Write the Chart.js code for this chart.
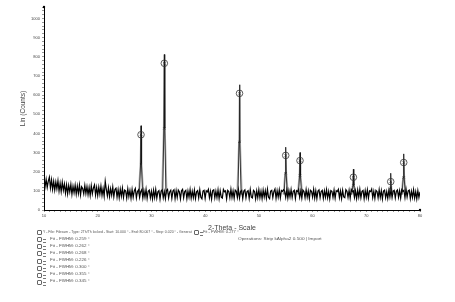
<!DOCTYPE html>
<html>
<head>
<meta charset="utf-8">
<script src="https://cdn.jsdelivr.net/npm/chart.js@4"></script>
<style>
  body { margin: 0; background: #fff; }
  #wrap { position: relative; width: 455px; height: 302px; overflow: hidden; }
  canvas { position: absolute; left: 0; top: 0; }
  .leg { position: absolute; font-family: Arial, "Liberation Sans", sans-serif; font-size: 3.8px; color: #555; white-space: nowrap; line-height: 5px; transform-origin: left top; }
  .ico { position: absolute; width: 5px; height: 5px; border: 0.7px solid #666; box-sizing: border-box; border-radius: 1px; }
  .ico.sub::after { content: ""; position: absolute; left: 5px; top: 1px; width: 2.5px; height: 2px; border-top: 0.7px solid #777; border-bottom: 0.7px solid #777; }
</style>
</head>
<body>
<div id="wrap">
  <canvas id="xrd" width="455" height="302"></canvas>
  <div id="legend"></div>
</div>
<script>
// measured scan, 2-theta 10..80, step 0.2
const scanStart = 10;
const scanStep = 0.2;
const counts = [
  168,122,160,118,151,172,115,158,108,149,
  104,146,110,152,99,140,96,145,103,136,
  88,131,84,128,94,134,82,125,90,130,
  83,126,86,131,79,121,112,84,128,86,
  122,80,118,76,127,84,115,131,78,118,
  75,119,82,125,77,113,72,150,108,74,
  116,70,111,77,120,69,107,114,67,106,
  64,109,72,114,66,104,100,62,111,70,
  102,61,107,66,99,112,63,97,105,65,
  96,106,62,101,67,108,60,98,104,64,
  98,58,103,65,107,62,95,101,57,99,
  105,64,96,59,102,108,63,94,103,61,
  99,106,60,101,65,104,95,58,100,108,
  64,97,103,59,99,67,107,62,98,65,
  104,60,95,101,63,106,66,58,99,103,
  61,100,94,108,64,97,57,102,106,63,
  98,65,105,60,101,67,62,107,95,100,
  58,103,97,64,109,66,100,61,104,98,
  65,106,62,97,102,60,99,105,64,96,
  101,61,107,67,63,103,97,58,100,65,
  106,64,98,60,104,68,101,62,108,66,
  59,99,103,65,97,110,61,101,67,105,
  63,102,97,106,99,66,104,62,101,68,
  107,65,98,103,60,101,96,108,66,99,
  62,104,97,64,106,67,100,59,103,98,
  68,108,63,101,60,99,105,65,97,103,
  61,100,67,106,64,97,58,102,98,66,
  104,62,101,96,108,65,99,60,103,68,
  64,106,98,66,102,62,107,96,100,65,
  99,60,104,67,108,64,97,102,59,101,
  66,105,62,100,96,109,65,98,60,103,
  97,63,106,66,101,58,99,104,64,96,
  61,102,68,107,65,99,103,63,98,105,
  66,101,62,106,97,103,65,108,68,100,
  104,60,98,66,106,62,96,58,101,65,
  95
];

// peaks: position, background, raw top, fitted top (circle), half height (cross), FWHM
const peakPos  = [28.06, 32.40, 46.40, 55.00, 57.66, 67.60, 74.55, 76.97];
const peakBkg  = [84, 82, 81, 81, 81, 80, 80, 80];
const peakTop  = [440, 812, 654, 328, 300, 213, 192, 293];
const peakFit  = [393, 766, 609, 285, 258, 171, 148, 248];
const peakHalf = [240, 426, 356, 192, 180, 128, 116, 170];
const peakFwhm = ['0.259', '0.262', '0.268', '0.226', '0.300', '0.355', '0.345', '0.277'];

const xLabels = [10, 20, 30, 40, 50, 60, 70, 80];
const yLabels = [0, 100, 200, 300, 400, 500, 600, 700, 800, 900, 1000];

const scanPts = counts.map((c, i) => ({ x: +(scanStart + i * scanStep).toFixed(2), y: c }));

const rawPeakPts = [];
const fitPts = [];
peakPos.forEach((p, i) => {
  const b = peakBkg[i];
  rawPeakPts.push({ x: p - 0.3, y: b }, { x: p - 0.08, y: peakHalf[i] }, { x: p, y: peakTop[i] },
                  { x: p + 0.08, y: peakHalf[i] }, { x: p + 0.3, y: b }, { x: p + 0.31, y: null });
  fitPts.push({ x: p - 0.45, y: b }, { x: p - 0.12, y: peakHalf[i] }, { x: p, y: peakFit[i] },
              { x: p + 0.12, y: peakHalf[i] }, { x: p + 0.45, y: b }, { x: p + 0.46, y: null });
});

const axisEnds = {
  id: 'axisEnds',
  afterDraw(chart) {
    const { ctx, chartArea: a } = chart;
    ctx.save();
    ctx.fillStyle = '#000';
    ctx.beginPath(); ctx.arc(a.left, a.top, 1.2, 0, Math.PI * 2); ctx.fill();
    ctx.beginPath(); ctx.arc(a.right, a.bottom, 1.2, 0, Math.PI * 2); ctx.fill();
    ctx.restore();
  }
};

const tickFont = { size: 4, family: 'Arial' };

new Chart(document.getElementById('xrd'), {
  type: 'line',
  data: {
    datasets: [
      { data: fitPts, borderColor: '#b4b4b4', borderWidth: 1.6, pointRadius: 0, spanGaps: false, order: 4 },
      { data: scanPts, borderColor: '#000', borderWidth: 1.2, pointRadius: 0, order: 3 },
      { data: rawPeakPts, borderColor: '#111', borderWidth: 0.8, pointRadius: 0, spanGaps: false, order: 2 },
      { data: peakPos.map((p, i) => ({ x: p, y: peakFit[i] })), showLine: false, pointStyle: 'circle',
        pointRadius: 3.3, pointBorderColor: '#333', pointBackgroundColor: 'rgba(0,0,0,0)', pointBorderWidth: 0.8, order: 1 },
      { data: peakPos.map((p, i) => ({ x: p, y: peakFit[i] })), showLine: false, pointStyle: 'crossRot',
        pointRadius: 1.4, pointBorderColor: '#222', pointBorderWidth: 0.8, order: 1 },
      { data: peakPos.map((p, i) => ({ x: p, y: peakHalf[i] })), showLine: false, pointStyle: 'crossRot',
        pointRadius: 1.4, pointBorderColor: '#222', pointBorderWidth: 0.8, order: 1 }
    ]
  },
  options: {
    responsive: false,
    animation: false,
    layout: { padding: { left: 19, top: 7, right: 35, bottom: 70 } },
    plugins: { legend: { display: false }, tooltip: { enabled: false } },
    scales: {
      x: {
        type: 'linear', min: 10, max: 80,
        ticks: { stepSize: 1, autoSkip: false, maxRotation: 0, font: tickFont, color: '#444', padding: 1,
                 callback: v => xLabels.includes(v) ? v : '' },
        grid: { drawOnChartArea: false, drawTicks: true, tickLength: 2, tickWidth: 0.6, tickColor: '#555' },
        border: { color: '#000', width: 1 },
        title: { display: true, text: '2-Theta - Scale', font: { size: 7, family: 'Arial' }, color: '#444',
                 padding: { top: 2, bottom: 0 } },
        afterFit: s => { s.height = 22; }
      },
      y: {
        min: 0, max: 1060,
        ticks: { stepSize: 20, autoSkip: false, font: tickFont, color: '#444', padding: 2,
                 callback: v => yLabels.includes(v) ? v : '' },
        grid: { drawOnChartArea: false, drawTicks: true, tickLength: 2, tickWidth: 0.6, tickColor: '#555' },
        border: { color: '#000', width: 1 },
        title: { display: true, text: 'Lin (Counts)', font: { size: 6.5, family: 'Arial' }, color: '#444',
                 padding: { top: 0, bottom: 2 } },
        afterFit: s => { s.width = 25; }
      }
    }
  },
  plugins: [axisEnds]
});

// legend block under the plot
const legend = document.getElementById('legend');
function addLine(iconX, x, y, text, width, sub) {
  if (iconX !== null) {
    const b = document.createElement('div');
    b.className = sub ? 'ico sub' : 'ico';
    b.style.left = iconX + 'px';
    b.style.top = (y - 1) + 'px';
    legend.appendChild(b);
  }
  const d = document.createElement('div');
  d.className = 'leg';
  d.style.left = x + 'px';
  d.style.top = (y - 1.5) + 'px';
  d.textContent = text;
  legend.appendChild(d);
  if (width) d.style.transform = 'scaleX(' + (width / d.scrollWidth) + ')';
}
addLine(36.5, 43, 231, 'Y - File: Filesam - Type: 2Th/Th locked - Start: 10.000 ° - End: 80.007 ° - Step: 0.020 ° - Generat', 149, false);
for (let i = 0; i < 7; i++) {
  addLine(37, 50, 238.2 + i * 7.1, 'Fit - FWHM: ' + peakFwhm[i] + ' °', 40, true);
}
addLine(194, 203, 231, 'Fit - FWHM: ' + peakFwhm[7] + ' °', 36, true);
addLine(null, 238, 238.2, 'Operations: Strip kAlpha2 0.500 | Import', 84, false);
</script>
</body>
</html>
